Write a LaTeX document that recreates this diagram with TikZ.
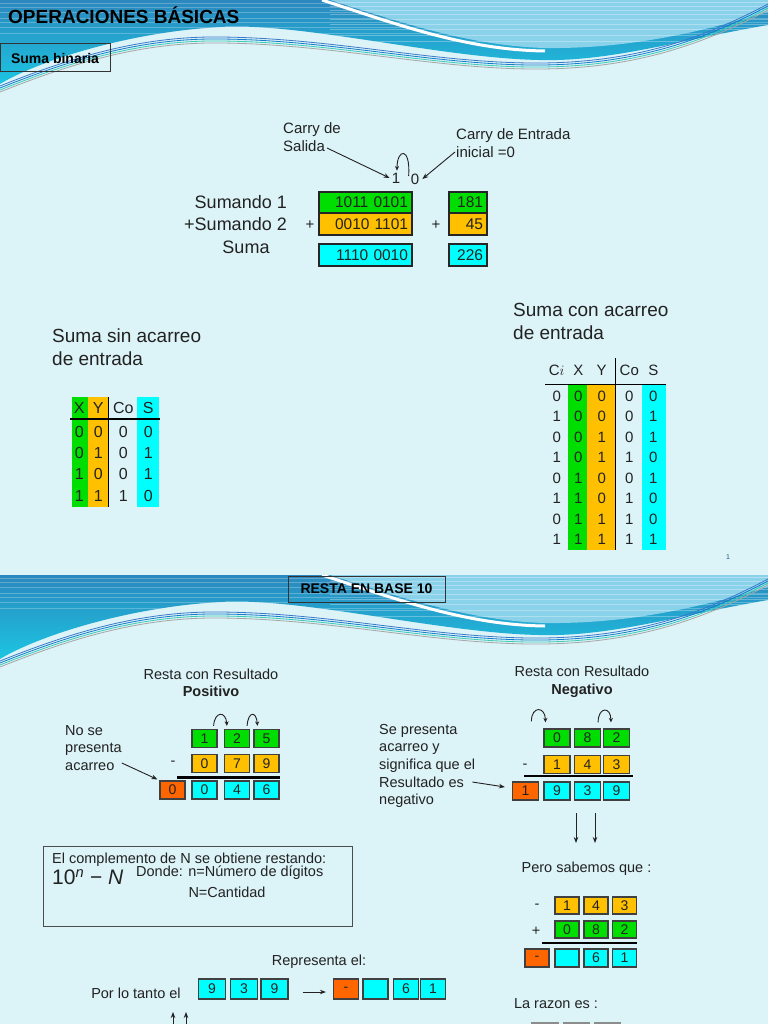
\documentclass[tikz,border=0pt]{standalone}
\usepackage{fontspec}
\setmainfont{Liberation Sans}
\usepackage{xcolor}
\usepackage{tikz}
\usetikzlibrary{arrows.meta,calc}

\definecolor{slidebg}{HTML}{DCF3F8}
\definecolor{headdark}{HTML}{2B88BE}
\definecolor{headcyan}{HTML}{1CC6E2}
\definecolor{headlight}{HTML}{8AD2EA}
\definecolor{waveblue}{HTML}{3A78C8}
\definecolor{waveteal}{HTML}{3CCBB4}
\definecolor{bitgreen}{HTML}{00DD00}
\definecolor{bitorange}{HTML}{FFC000}
\definecolor{bitcyan}{HTML}{00FFFF}
\definecolor{bitred}{HTML}{FF6600}
\definecolor{inkgray}{HTML}{222222}

\begin{document}
\begin{tikzpicture}[x=1pt, y=-1pt,
  txt/.style={inner sep=0pt, text=inkgray},
  slidetitle/.style={txt, text=black, font=\bfseries\fontsize{19}{19}\selectfont},
  tagbox/.style={draw=black!80, line width=1pt, inner sep=0pt, text=black, font=\bfseries\fontsize{14}{14}\selectfont},
  lbl/.style={txt, font=\fontsize{15}{18}\selectfont, align=left},
  bigtxt/.style={txt, font=\fontsize{18}{22}\selectfont},
  secthead/.style={txt, font=\fontsize{19}{22.5}\selectfont, align=left},
  sumbox/.style={draw=black!85, line width=1.6pt, inner xsep=4pt, inner ysep=0pt, minimum height=21.5pt, align=right, text=inkgray, font=\fontsize{15.5}{15.5}\selectfont},
  cellA/.style={txt, font=\fontsize{16}{16}\selectfont},
  cellB/.style={txt, font=\fontsize{15}{15}\selectfont},
  digbox/.style={draw=black!75, line width=1.2pt, minimum width=25pt, minimum height=18pt, inner sep=0pt, text=inkgray, font=\fontsize{14}{14}\selectfont},
  note/.style={txt, font=\fontsize{14.5}{17.6}\selectfont, align=left},
  arr/.style={-{Stealth[length=6pt,width=4.5pt]}, line width=0.9pt, draw=inkgray},
  arc/.style={-{Stealth[length=4.5pt,width=4pt]}, line width=0.9pt, draw=inkgray},
]
\useasboundingbox (0,0) rectangle (768,1024);
\fill[slidebg] (0,0) rectangle (768,1024);

\foreach \dy in {0,575} {
  \begin{scope}[shift={(0,\dy)}]
    \begin{scope}
      \clip (0,0) -- (768,0) -- (768,25) .. controls (680,40) and (610,62) .. (539,60)
        .. controls (440,58) and (300,22) .. (220,27) .. controls (130,32) and (40,60) .. (0,84) -- cycle;
      \shade[top color=headdark, bottom color=headcyan] (0,0) rectangle (768,85);
      \foreach \s in {3,7,12,18,22,27,33}
        \draw[white, opacity=0.25, line width=0.8pt] (0,\s) -- (768,\s);
      \fill[headlight] (330,0) .. controls (400,22) and (470,46) .. (545,48)
        .. controls (630,49) and (700,32) .. (768,12) -- (768,0) -- cycle;
      \foreach \s in {2,6,10,14,19,24,29,35,41}
        \draw[white, opacity=0.3, line width=0.7pt] (330,\s) -- (768,\s);
      \draw[white, line width=3pt] (322,0) .. controls (396,24) and (466,50) .. (545,51);
    \end{scope}
    \foreach \o/\c in {0/waveblue,2/cyan!60!blue,4/waveteal,6/gray!70}
      \draw[\c, line width=0.8pt, shift={(0,\o)}] (0,86) .. controls (70,58) and (140,36) .. (220,37)
        .. controls (330,38) and (430,62) .. (530,63) .. controls (630,64) and (700,40) .. (768,4);
  \end{scope}
}

\node[slidetitle, anchor=west] (optitle) at (8,15) {OPERACIONES BÁSICAS};
\node[tagbox, minimum width=110pt, minimum height=28pt] (sumtag) at (55,58) {Suma binaria};

\node[lbl, anchor=west] (carrysal) at (283,137) {Carry de\\Salida};
\node[lbl, anchor=west] (carryent) at (456,143) {Carry de Entrada\\inicial =0};
\node[lbl] (c1) at (396,178) {1};
\node[lbl] (c0) at (415,179) {0};
\draw[arr] ($(carrysal.west)+(44,11)$) -- ($(c1.west)+(-2,0)$);
\draw[arr] ($(carryent.west)+(-1,9)$) -- ($(c0.east)+(3,0)$);
\draw[arc] ($(c0.west)+(-2,-3)$) .. controls +(2,-30) and +(0,-22) .. ($(c1.north)+(1,-2)$);

\node[bigtxt, anchor=east] (sum1) at (287,202) {Sumando 1};
\node[bigtxt, anchor=east] (sum2) at (287,224) {+Sumando 2};
\node[bigtxt] (sumres) at (246,247) {Suma};
\node[sumbox, fill=bitgreen, text width=85pt] (bin1) at (365.5,202.5) {1011 0101};
\node[sumbox, fill=bitorange, text width=85pt] (bin2) at (365.5,224) {0010 1101};
\node[sumbox, fill=bitcyan, text width=85pt] (binr) at (365.5,255) {1110 0010};
\node[sumbox, fill=bitgreen, text width=30pt] (dec1) at (468,202.5) {181};
\node[sumbox, fill=bitorange, text width=30pt] (dec2) at (468,224) {45};
\node[sumbox, fill=bitcyan, text width=30pt] (decr) at (468,255) {226};
\node[lbl] (plusbin) at (310,225) {+};
\node[lbl] (plusdec) at (436,225) {+};

\node[secthead, anchor=west] (sinhead) at (52,347) {Suma sin acarreo\\de entrada};
\node[secthead, anchor=west] (conhead) at (513,321.5) {Suma con acarreo\\de entrada};

\fill[bitgreen] (72,397) rectangle (88,507);
\fill[bitorange] (88,397) rectangle (108,507);
\fill[bitcyan] (137,397) rectangle (159,507);
\draw[line width=1.5pt] (108.3,397) -- (108.3,507);
\draw[line width=1.5pt] (70,419) -- (160,419);
\node[cellA] (ta-0-1) at (79.3,408) {X};
\node[cellA] (ta-0-2) at (98.3,408) {Y};
\node[cellA] (ta-0-3) at (123.3,408) {Co};
\node[cellA] (ta-0-4) at (148.3,408) {S};
\foreach \xx/\yy/\co/\ss [count=\r] in {0/0/0/0,0/1/0/1,1/0/0/1,1/1/1/0} {
  \node[cellA] (ta-\r-1) at (79.3,{410.5+21.3*\r}) {\xx};
  \node[cellA] (ta-\r-2) at (98.3,{410.5+21.3*\r}) {\yy};
  \node[cellA] (ta-\r-3) at (123.3,{410.5+21.3*\r}) {\co};
  \node[cellA] (ta-\r-4) at (148.3,{410.5+21.3*\r}) {\ss};
}

\fill[bitgreen] (568.3,384.3) rectangle (587.3,550);
\fill[bitorange] (587.3,384.3) rectangle (615,550);
\fill[bitcyan] (641.7,384.3) rectangle (665.7,550);
\draw[line width=1pt] (615.7,358) -- (615.7,550);
\draw[line width=1.2pt] (545,384.3) -- (665.7,384.3);
\node[cellB] (tb-0-1) at (556.7,370) {C$i$};
\node[cellB] (tb-0-2) at (578.3,370) {X};
\node[cellB] (tb-0-3) at (601.7,370) {Y};
\node[cellB] (tb-0-4) at (629.3,370) {Co};
\node[cellB] (tb-0-5) at (653.3,370) {S};
\foreach \ci/\xx/\yy/\co/\ss [count=\r] in {0/0/0/0/0,1/0/0/0/1,0/0/1/0/1,1/0/1/1/0,0/1/0/0/1,1/1/0/1/0,0/1/1/1/0,1/1/1/1/1} {
  \node[cellB] (tb-\r-1) at (556.7,{375.5+20.5*\r}) {\ci};
  \node[cellB] (tb-\r-2) at (578.3,{375.5+20.5*\r}) {\xx};
  \node[cellB] (tb-\r-3) at (601.7,{375.5+20.5*\r}) {\yy};
  \node[cellB] (tb-\r-4) at (629.3,{375.5+20.5*\r}) {\co};
  \node[cellB] (tb-\r-5) at (653.3,{375.5+20.5*\r}) {\ss};
}
\node[txt, text=waveblue!70!black, font=\fontsize{7}{7}\selectfont] (pagenum) at (728,557) {1};

\node[tagbox, minimum width=157pt, minimum height=26pt] (restatag) at (366.5,589) {RESTA EN BASE 10};

\node[note, align=center] (poshead) at (211,683) {Resta con Resultado\\\textbf{Positivo}};
\node[note, anchor=west] (nose) at (65,748) {No se\\presenta\\acarreo};
\node[digbox, fill=bitgreen] (pa1) at (204.5,738.5) {1};
\node[digbox, fill=bitgreen] (pa2) at (237,738.5) {2};
\node[digbox, fill=bitgreen] (pa3) at (266.5,738.5) {5};
\node[digbox, fill=bitorange] (pb1) at (204.5,763.5) {0};
\node[digbox, fill=bitorange] (pb2) at (237,763.5) {7};
\node[digbox, fill=bitorange] (pb3) at (266.5,763.5) {9};
\node[digbox, fill=bitred] (pr0) at (172.5,790) {0};
\node[digbox, fill=bitcyan] (pr1) at (204.5,790) {0};
\node[digbox, fill=bitcyan] (pr2) at (237,790) {4};
\node[digbox, fill=bitcyan] (pr3) at (266.5,790) {6};
\node[note] (pminus) at (173,763) {-};
\draw[line width=3pt] (177,777) -- (280,777);
\draw[arc] ($(pa1.north east)+(-4,-3)$) .. controls +(1,-15) and +(-1,-15) .. ($(pa2.north west)+(3,-3)$);
\draw[arc] ($(pa2.north east)+(-3,-3)$) .. controls +(1,-15) and +(-1,-15) .. ($(pa3.north west)+(4,-3)$);
\draw[arr] ($(nose.east)+(0,15)$) -- ($(pr0.north west)+(-2,-1)$);

\node[note, align=center] (neghead) at (582,682) {Resta con Resultado\\\textbf{Negativo}};
\node[note, anchor=west] (sepres) at (379,766) {Se presenta\\acarreo y\\significa que el\\Resultado es\\negativo};
\node[digbox, minimum width=26pt, fill=bitgreen] (na1) at (557,738) {0};
\node[digbox, minimum width=26pt, fill=bitgreen] (na2) at (587.5,738) {8};
\node[digbox, minimum width=26pt, fill=bitgreen] (na3) at (616.5,738) {2};
\node[digbox, minimum width=26pt, fill=bitorange] (nb1) at (557,764.5) {1};
\node[digbox, minimum width=26pt, fill=bitorange] (nb2) at (587.5,764.5) {4};
\node[digbox, minimum width=26pt, fill=bitorange] (nb3) at (616.5,764.5) {3};
\node[digbox, minimum width=26pt, fill=bitred] (nr0) at (525.5,791) {1};
\node[digbox, minimum width=26pt, fill=bitcyan] (nr1) at (557,791) {9};
\node[digbox, minimum width=26pt, fill=bitcyan] (nr2) at (587.5,791) {3};
\node[digbox, minimum width=26pt, fill=bitcyan] (nr3) at (616.5,791) {9};
\node[note] (nminus) at (525,766) {-};
\draw[line width=2pt] (524,776) -- (633,776);
\draw[arc] ($(na1.north west)+(-12,-7)$) .. controls +(0,-16) and +(0,-16) .. ($(na1.north west)+(2,-6)$);
\draw[arc] ($(na2.north east)+(-3,-6)$) .. controls +(0,-16) and +(0,-16) .. ($(na3.north west)+(8,-6)$);
\draw[arr] ($(sepres.east)+(-3,16)$) -- ($(nr0.west)+(-7,-4)$);

\coordinate (dn1s) at (576,813);
\coordinate (dn1e) at (576,843);
\coordinate (dn2s) at (595,813);
\coordinate (dn2e) at (595,843);
\draw[arr] (dn1s) -- (dn1e);
\draw[arr] (dn2s) -- (dn2e);

\node[note] (pero) at (586.5,869) {Pero sabemos que :};
\node[note] (cminus) at (537,906) {-};
\node[digbox, minimum width=24pt, minimum height=17pt, fill=bitorange] (cb1) at (567,905.5) {1};
\node[digbox, minimum width=24pt, minimum height=17pt, fill=bitorange] (cb2) at (596,905.5) {4};
\node[digbox, minimum width=24pt, minimum height=17pt, fill=bitorange] (cb3) at (624.5,905.5) {3};
\node[note] (cplus) at (536,931) {+};
\node[digbox, minimum width=24pt, minimum height=17pt, fill=bitgreen] (ca1) at (567,929.5) {0};
\node[digbox, minimum width=24pt, minimum height=17pt, fill=bitgreen] (ca2) at (596,929.5) {8};
\node[digbox, minimum width=24pt, minimum height=17pt, fill=bitgreen] (ca3) at (624.5,929.5) {2};
\draw[line width=1.5pt] (542,943) -- (637,943);
\node[digbox, minimum width=24pt, fill=bitred] (cr0) at (537,958) {-};
\node[digbox, minimum width=24pt, fill=bitcyan] (cr1) at (567,958) {};
\node[digbox, minimum width=24pt, fill=bitcyan] (cr2) at (596,958) {6};
\node[digbox, minimum width=24pt, fill=bitcyan] (cr3) at (624.5,958) {1};

\node[note] (razon) at (556,1004) {La razon es :};
\foreach \xx [count=\k] in {545,576.5,607.5}
  \node[digbox, minimum width=26pt, minimum height=20pt, draw=black!45] (rz\k) at (\xx,1033) {};

\draw[line width=1pt, draw=black!70] (43,846) rectangle (352,926);
\node[note, anchor=west] (comp1) at (52,860) {El complemento de N se obtiene restando:};
\node[txt, anchor=west, font=\fontsize{21}{21}\selectfont] (compf) at (52,877) {10\textsuperscript{\itshape n} − \textit{N}};
\node[note, anchor=west] (donde) at (136,873) {Donde: n=Número de dígitos};
\node[note] (cantidad) at (227,892) {N=Cantidad};

\node[note] (repres) at (319,962) {Representa el:};
\node[note] (portanto) at (136,993) {Por lo tanto el};
\node[digbox, minimum width=27pt, minimum height=20pt, fill=bitcyan] (q1) at (212,989) {9};
\node[digbox, minimum width=27pt, minimum height=20pt, fill=bitcyan] (q2) at (244,989) {3};
\node[digbox, minimum width=27pt, minimum height=20pt, fill=bitcyan] (q3) at (274.5,989) {9};
\node[digbox, minimum height=20pt, fill=bitred] (s0) at (346,989) {-};
\node[digbox, minimum height=20pt, fill=bitcyan] (s1) at (375.5,989) {};
\node[digbox, minimum height=20pt, fill=bitcyan] (s2) at (406,989) {6};
\node[digbox, minimum height=20pt, fill=bitcyan] (s3) at (433,989) {1};
\draw[arr] ($(q3.east)+(14,3)$) -- ($(s0.west)+(-7,3)$);

\coordinate (up1s) at (173,1030);
\coordinate (up1e) at (173,1012);
\coordinate (up2s) at (186,1030);
\coordinate (up2e) at (186,1012);
\draw[arr] (up1s) -- (up1e);
\draw[arr] (up2s) -- (up2e);
\end{tikzpicture}
\end{document}
